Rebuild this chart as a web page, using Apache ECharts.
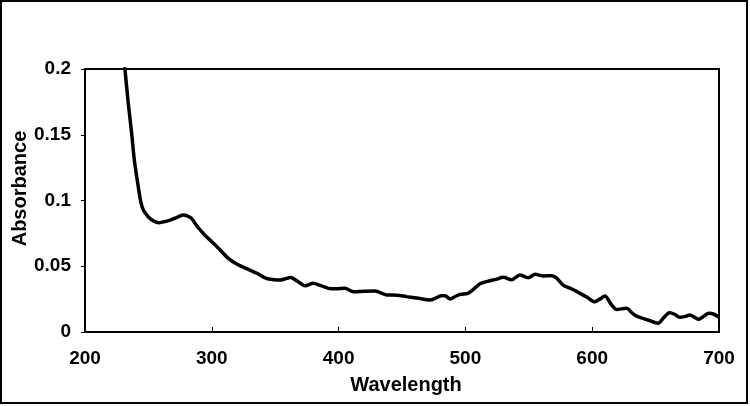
<!DOCTYPE html>
<html>
<head>
<meta charset="utf-8">
<script src="https://cdn.jsdelivr.net/npm/echarts@6/dist/echarts.min.js"></script>
<style>
  html, body { margin: 0; padding: 0; background: #fff; }
  #chart { width: 750px; height: 406px; }
</style>
</head>
<body>
<div id="chart"></div>
<script>
// 读图得到的数据
var wavelength = [230, 231.5, 234, 236.8, 239, 242, 244, 246, 250, 254, 258, 262, 266, 271, 277.5, 281, 284, 288, 292, 296,
  300, 306, 313, 320, 326, 330, 336, 343, 349, 354, 358, 362, 367, 373.5, 380, 386, 392, 398, 405, 411.6,
  420, 428.7, 438, 446, 453.6, 463, 472, 477, 481, 484, 488, 492, 496, 502, 507, 511.5, 519.4, 524, 530, 536.4,
  543, 549.6, 555, 561.5, 568, 572, 577, 582, 588, 596, 602, 606, 610, 615, 619, 627, 632, 636, 644, 652,
  656, 661, 665, 669, 674, 677, 681, 684, 688, 692, 696, 700];
var absorbance = [0.215, 0.2, 0.175, 0.151, 0.13, 0.1105, 0.099, 0.0928, 0.0875, 0.0845, 0.0831, 0.0838, 0.0847, 0.0865, 0.089, 0.0882, 0.0864, 0.081, 0.0763, 0.0722,
  0.0687, 0.063, 0.056, 0.0515, 0.0488, 0.0471, 0.0445, 0.0408, 0.0398, 0.0395, 0.0405, 0.0414, 0.039, 0.0352, 0.037, 0.0352, 0.0332, 0.0328, 0.0332, 0.0307,
  0.031, 0.0312, 0.0281, 0.028, 0.0269, 0.0256, 0.0243, 0.026, 0.0276, 0.0275, 0.0251, 0.027, 0.0286, 0.0294, 0.033, 0.0367, 0.039, 0.04, 0.0416, 0.0397,
  0.0433, 0.0413, 0.0439, 0.0426, 0.0428, 0.041, 0.0357, 0.0335, 0.0307, 0.0264, 0.023, 0.025, 0.0274, 0.021, 0.0172, 0.018, 0.014, 0.0117, 0.0091, 0.0066,
  0.0105, 0.0147, 0.0135, 0.0112, 0.012, 0.0129, 0.011, 0.0097, 0.012, 0.0142, 0.0135, 0.0112];
var xTicks = [200, 300, 400, 500, 600, 700];
var yTicks = [0, 0.05, 0.1, 0.15, 0.2];

var points = wavelength.map(function (w, i) { return [w, absorbance[i]]; });
var font = '"Liberation Sans", Arial, sans-serif';

var chart = echarts.init(document.getElementById('chart'), null, { renderer: 'canvas' });
chart.setOption({
  animation: false,
  backgroundColor: '#fff',
  grid: {
    left: 85, right: 31, top: 69, bottom: 74,
    outerBoundsMode: 'none', containLabel: false,
    show: true, borderColor: '#000', borderWidth: 2
  },
  xAxis: {
    type: 'value',
    min: xTicks[0], max: xTicks[xTicks.length - 1], interval: 100,
    name: 'Wavelength', nameLocation: 'middle', nameGap: 43, nameMoveOverlap: false,
    nameTextStyle: { color: '#000', fontSize: 20, fontWeight: 'bold', fontFamily: font, padding: [0, 0, 0, 8] },
    axisLine: { lineStyle: { color: '#000', width: 2 } },
    axisTick: { show: true, inside: true, length: 5, lineStyle: { color: '#000', width: 1 } },
    axisLabel: { color: '#000', fontSize: 19, fontWeight: 'bold', fontFamily: font, margin: 17 },
    splitLine: { show: false }
  },
  yAxis: {
    type: 'value',
    min: yTicks[0], max: yTicks[yTicks.length - 1], interval: 0.05,
    name: 'Absorbance', nameLocation: 'middle', nameGap: 55, nameMoveOverlap: false,
    nameTextStyle: { color: '#000', fontSize: 20, fontWeight: 'bold', fontFamily: font, padding: [0, 0, 0, 24] },
    axisLine: { lineStyle: { color: '#000', width: 2 } },
    axisTick: { show: true, inside: false, length: 4, lineStyle: { color: '#000', width: 1 } },
    axisLabel: { color: '#000', fontSize: 19, fontWeight: 'bold', fontFamily: font, margin: 14 },
    splitLine: { show: false }
  },
  graphic: [{
    type: 'rect',
    shape: { x: 1, y: 1, width: 746, height: 402 },
    style: { fill: 'none', stroke: '#000', lineWidth: 2 },
    silent: true
  }],
  series: [{
    type: 'line',
    data: points,
    smooth: 0.3,
    showSymbol: false,
    clip: true,
    lineStyle: { color: '#000', width: 3.5 }
  }]
});
</script>
</body>
</html>
